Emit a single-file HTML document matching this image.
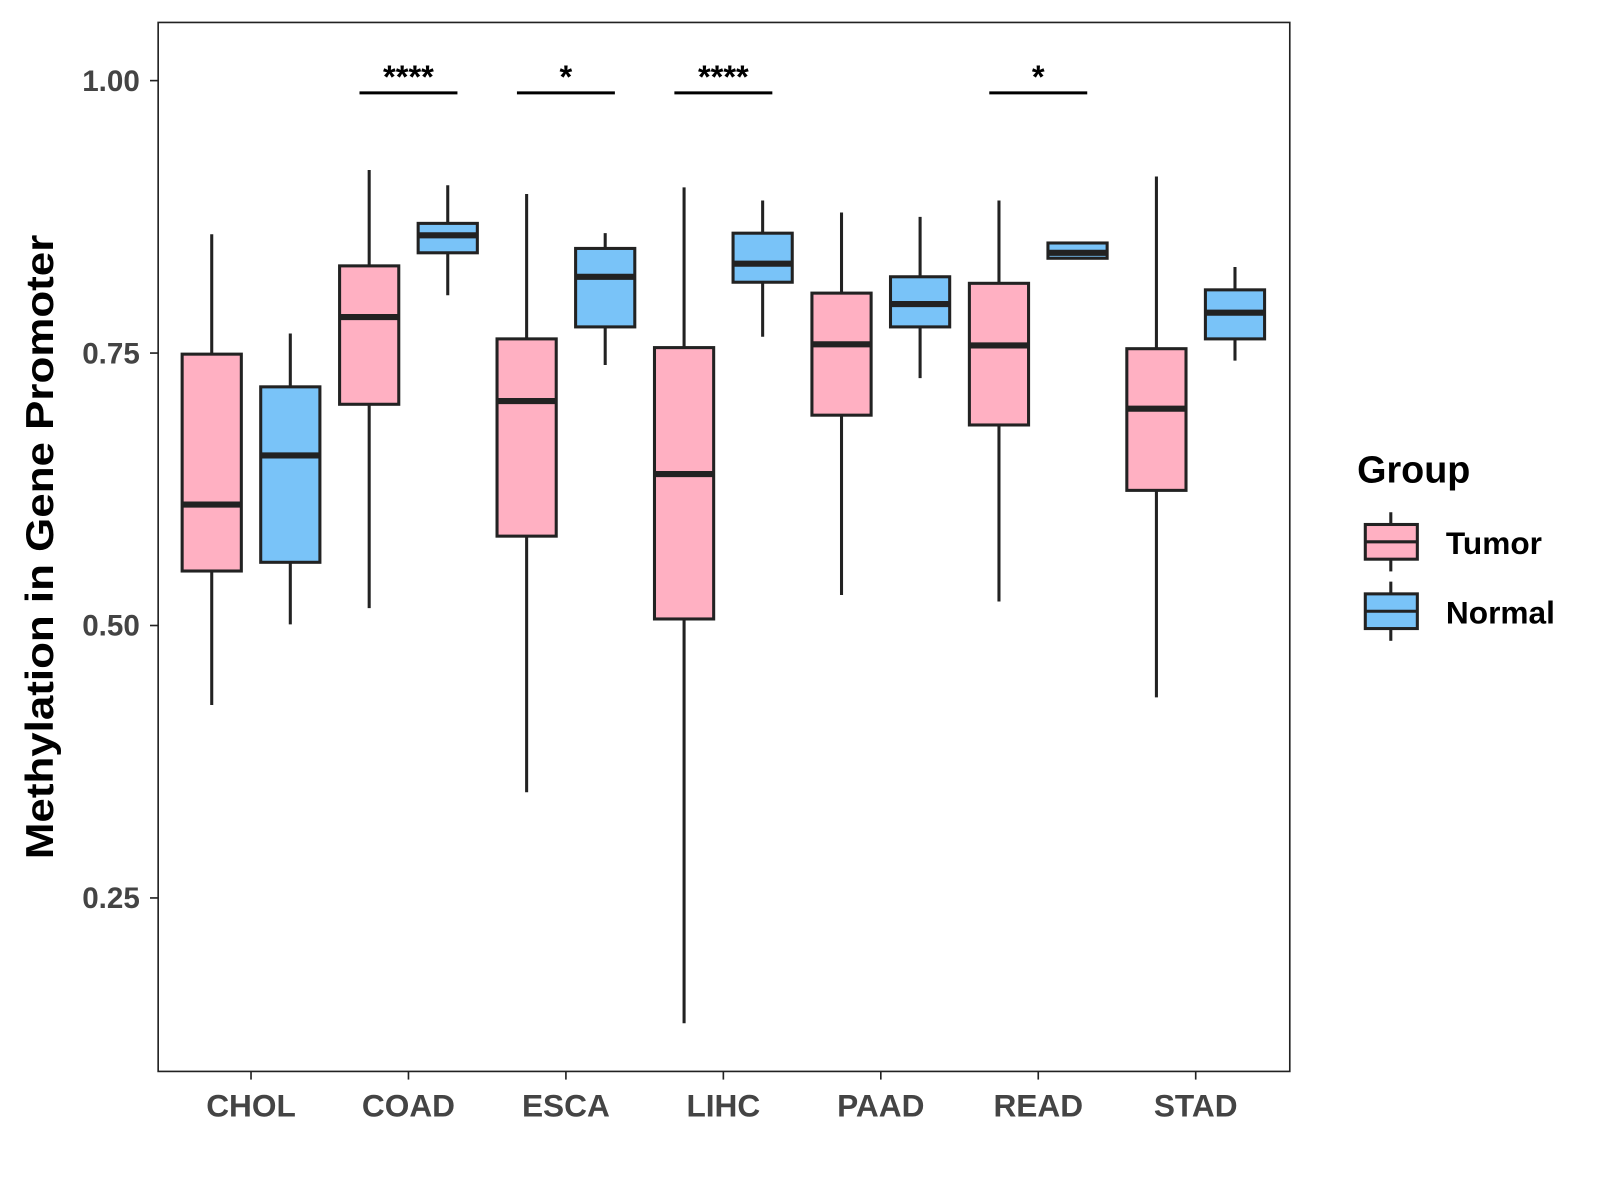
<!DOCTYPE html>
<html><head><meta charset="utf-8"><style>
body{margin:0;background:#fff;}
svg{display:block;font-family:"Liberation Sans",Arial,sans-serif;}
</style></head><body>
<svg id="chart" width="1600" height="1200" viewBox="0 0 1600 1200">
<rect x="0" y="0" width="1600" height="1200" fill="#fff"/>
<g transform="scale(1.0204)">
<rect x="155" y="22" width="1109" height="1028" fill="none" stroke="#222" stroke-width="1.6"/>
<g id="yaxis"></g>
<g id="xaxis"></g>
<g id="boxes"></g>
<g id="sig"></g>
<text x="52" y="536" transform="rotate(-90 52 536)" text-anchor="middle" font-size="38" font-weight="bold" fill="#000" textLength="612" lengthAdjust="spacingAndGlyphs">Methylation in Gene Promoter</text>
<g>
<text x="1330" y="473" font-size="37" font-weight="bold" fill="#000">Group</text>
<g>
<line x1="1363" y1="502" x2="1363" y2="560" stroke="#222" stroke-width="3"/>
<rect x="1338" y="514" width="51" height="34" fill="#FFB0C2" stroke="#222" stroke-width="3"/>
<line x1="1338" y1="531" x2="1389" y2="531" stroke="#222" stroke-width="3"/>
<text x="1417" y="543" font-size="31" font-weight="bold" fill="#000">Tumor</text></g>
<g>
<line x1="1363" y1="570" x2="1363" y2="628" stroke="#222" stroke-width="3"/>
<rect x="1338" y="582" width="51" height="34" fill="#79C3F8" stroke="#222" stroke-width="3"/>
<line x1="1338" y1="599" x2="1389" y2="599" stroke="#222" stroke-width="3"/>
<text x="1417" y="611" font-size="31" font-weight="bold" fill="#000">Normal</text></g>
</g>
</g>
</svg>
<script>
const categories=["CHOL","COAD","ESCA","LIHC","PAAD","READ","STAD"];
const tumorLow=[0.427,0.516,0.347,0.135,0.528,0.522,0.434];
const tumorQ1=[0.550,0.703,0.582,0.506,0.693,0.684,0.624];
const tumorMed=[0.611,0.783,0.706,0.639,0.758,0.757,0.699];
const tumorQ3=[0.749,0.830,0.763,0.755,0.805,0.814,0.754];
const tumorHigh=[0.859,0.918,0.896,0.902,0.879,0.890,0.912];
const normalLow=[0.501,0.803,0.739,0.765,0.727,0.837,0.743];
const normalQ1=[0.558,0.842,0.774,0.815,0.774,0.837,0.763];
const normalMed=[0.656,0.858,0.820,0.832,0.795,0.842,0.787];
const normalQ3=[0.719,0.869,0.846,0.860,0.820,0.851,0.808];
const normalHigh=[0.768,0.904,0.860,0.890,0.875,0.851,0.829];
const sigLabels=["","****","*","****","","*",""];
const yTicks=[0.25,0.50,0.75,1.00];
const yTickLabels=["0.25","0.50","0.75","1.00"];

const NS="http://www.w3.org/2000/svg";
const yScale=v=>79+(1-v)*1068;
const xScale=i=>246+i*154.3;
function mk(tag,attrs,parent){const e=document.createElementNS(NS,tag);for(const k in attrs)e.setAttribute(k,attrs[k]);parent.appendChild(e);return e;}
const ya=document.getElementById('yaxis'),xa=document.getElementById('xaxis'),bx=document.getElementById('boxes'),sg=document.getElementById('sig');
yTicks.forEach((t,i)=>{const y=yScale(t);
 const l=mk('line',{x1:147,x2:155,y1:y,y2:y,stroke:'#222','stroke-width':1.6},ya);
 
 
 const tx=mk('text',{x:137,y:y+10,'text-anchor':'end','font-size':29,'font-weight':'bold',fill:'#444'},ya);tx.textContent=yTickLabels[i];
 
 });
categories.forEach((c,i)=>{const x=xScale(i);
 const l=mk('line',{x1:x,x2:x,y1:1050,y2:1058,stroke:'#222','stroke-width':1.6},xa);
 
 
 const tx=mk('text',{x:x,y:1094,'text-anchor':'middle','font-size':31,'font-weight':'bold',fill:'#444'},xa);tx.textContent=c;
 
 });
function box(cx,lo,q1,md,q3,hi,fill,name){
 const g=mk('g',{},bx);
 
 
 mk('line',{x1:cx,x2:cx,y1:yScale(hi),y2:yScale(lo),stroke:'#222','stroke-width':3},g);
 mk('rect',{x:cx-29,width:58,y:yScale(q3),height:yScale(q1)-yScale(q3),fill:fill,stroke:'#222','stroke-width':3},g);
 mk('line',{x1:cx-29,x2:cx+29,y1:yScale(md),y2:yScale(md),stroke:'#222','stroke-width':6},g);}
categories.forEach((c,i)=>{const x=xScale(i);
 box(x-38.5,tumorLow[i],tumorQ1[i],tumorMed[i],tumorQ3[i],tumorHigh[i],'#FFB0C2','box-tumor-'+c.toLowerCase());
 box(x+38.5,normalLow[i],normalQ1[i],normalMed[i],normalQ3[i],normalHigh[i],'#79C3F8','box-normal-'+c.toLowerCase());
 if(sigLabels[i]){
  const l=mk('line',{x1:x-48,x2:x+48,y1:91,y2:91,stroke:'#000','stroke-width':3},sg);
  
  
  const t=mk('text',{x:x,y:86,'text-anchor':'middle','font-size':32,'font-weight':'bold',fill:'#000'},sg);t.textContent=sigLabels[i];
  
  }});
</script>
</body></html>
